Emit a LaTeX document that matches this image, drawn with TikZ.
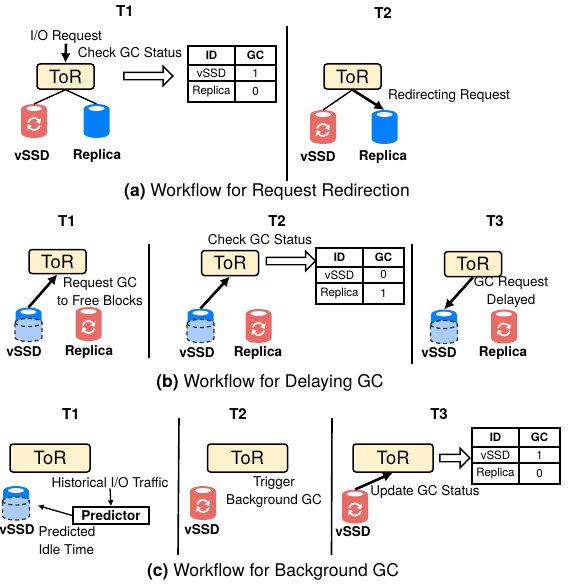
\documentclass[tikz,border=0pt]{standalone}
\usepackage{fontspec}
\setmainfont{TeX Gyre Heros}
\usetikzlibrary{positioning,shapes,arrows.meta,calc}
\definecolor{torfill}{HTML}{FFF2CC}
\definecolor{diskred}{HTML}{EA6B66}
\definecolor{diskblue}{HTML}{007FFF}
\definecolor{disklight}{HTML}{A9CDF7}

\tikzset{
  lbl/.style={font=\fontsize{13.5}{18}\selectfont, inner sep=0pt, align=center},
  lblb/.style={font=\fontsize{13.5}{18}\selectfont\bfseries, inner sep=0pt},
  title/.style={font=\fontsize{15}{18}\selectfont\bfseries, inner sep=0pt},
  caption/.style={font=\fontsize{17.5}{20}\selectfont, inner sep=0pt},
  tor/.style={draw, fill=torfill, line width=1.5pt, rounded corners=3pt, inner sep=0pt,
    minimum width=57pt, minimum height=25pt, font=\fontsize{18.3}{20}\selectfont},
  torwide/.style={tor, minimum width=80pt, minimum height=28pt},
  diskbox/.style={inner sep=0pt, outer sep=0pt, minimum width=26pt, minimum height=34pt},
  cell/.style={draw, line width=1.4pt, inner sep=0pt, outer sep=0pt,
    font=\fontsize{11.5}{13}\selectfont},
  hollow/.style={draw, single arrow, line width=1.4pt, fill=white, inner sep=0pt,
    minimum width=19pt, minimum height=49pt, single arrow head extend=6pt},
  divider/.style={line width=1.6pt},
  link/.style={line width=1.4pt},
  flow/.style={line width=2.6pt, -{Latex[length=10pt, width=10pt]}},
  thin flow/.style={line width=1.3pt, -{Latex[length=6pt, width=6pt]}}
}

% disk icons: name, position
\newcommand{\diskshape}[3]{
  \node[diskbox] (#1) at (#2) {};
  \fill[#3] ($(#1.north west)+(0,5)$) arc[start angle=180, end angle=0, x radius=13pt, y radius=5pt]
    -- ($(#1.south east)+(0,-5)$) arc[start angle=0, end angle=-180, x radius=13pt, y radius=5pt] -- cycle;
  \fill[white] ($(#1.north)+(0,4.5)$) ellipse[x radius=8pt, y radius=2.4pt];
}
\newcommand{\diskgc}[2]{
  \diskshape{#1}{#2}{diskred}
  \foreach \turn in {0,180} {
    \begin{scope}[shift={($(#1.center)+(0,3)$)}, rotate=\turn]
      \draw[white, line width=1.7pt] (165:6pt) arc[start angle=165, end angle=40, radius=6pt];
      \fill[white] (40:9.4pt) -- (40:2.6pt) -- (2:6pt) -- cycle;
    \end{scope}
  }
}
\newcommand{\diskok}[2]{\diskshape{#1}{#2}{diskblue}}
\newcommand{\diskhalf}[2]{
  \diskshape{#1}{#2}{diskblue}
  \filldraw[fill=disklight, draw=black!80, line width=1.3pt, dash pattern=on 4pt off 3pt]
    ($(#1.west)+(-0.5,-2)$) arc[start angle=180, end angle=0, x radius=13.5pt, y radius=4pt]
    -- ($(#1.south east)+(0.5,-4)$) arc[start angle=0, end angle=-180, x radius=13.5pt, y radius=4pt] -- cycle;
  \draw[draw=black!80, line width=1.3pt, dash pattern=on 4pt off 3pt]
    ($(#1.west)+(-0.5,-2)$) arc[start angle=180, end angle=360, x radius=13.5pt, y radius=4pt];
}
% status table: name, top left corner, vssd value, replica value
\newcommand{\gctable}[4]{
  \node[cell, anchor=north west, minimum width=47pt, minimum height=19pt, font=\fontsize{11.5}{13}\selectfont\bfseries] (#1id) at (#2) {ID};
  \node[cell, right=0pt of #1id, minimum width=41pt, minimum height=19pt, font=\fontsize{11.5}{13}\selectfont\bfseries] (#1gc) {GC};
  \node[cell, below=0pt of #1id, minimum width=47pt, minimum height=16pt] (#1va) {vSSD};
  \node[cell, below=0pt of #1gc, minimum width=41pt, minimum height=16pt] (#1vb) {#3};
  \node[cell, below=0pt of #1va, minimum width=47pt, minimum height=21pt] (#1ra) {Replica};
  \node[cell, below=0pt of #1vb, minimum width=41pt, minimum height=21pt] (#1rb) {#4};
}

\begin{document}
\begin{tikzpicture}[x=1pt, y=-1pt]
  \useasboundingbox (0,0) rectangle (569,586);

  % (a) request redirection
  \node[title] (aone) at (125,11) {T1};
  \node[lbl] (aio) at (66,37) {I/O Request};
  \node[tor] (tora) at (65.5,76.5) {ToR};
  \draw[flow] (aio.south) -- (tora.north);
  \node[lbl] (acheck) at (130,53) {Check GC Status};
  \diskgc{adiska}{34,121}
  \diskok{adiskb}{96.5,121}
  \draw[link] (tora.south) -- (adiska.north);
  \draw[link] (tora.south) -- (adiskb.north);
  \node[lblb] (avssd) at (32,156) {vSSD};
  \node[lblb] (arep) at (97,156) {Replica};
  \node[hollow] (aarrow) at (146.5,76) {\rule{0pt}{6pt}};
  \gctable{atab}{188,46}{1}{0}
  \draw[divider] (287,26) -- (287,181);

  \node[title] (atwo) at (383,13) {T2};
  \node[tor] (torb) at (352.5,76.5) {ToR};
  \diskgc{adiskc}{323,127}
  \diskok{adiskd}{384.5,127}
  \draw[link] (torb.south) -- (adiskc.north);
  \draw[flow] (torb.south) -- (adiskd.north);
  \node[lbl] (aredir) at (449,96) {Redirecting Request};
  \node[lblb] (avssdb) at (318,157) {vSSD};
  \node[lblb] (arepb) at (383,157) {Replica};
  \node[caption] (acap) at (267,192) {\textbf{(a)} Workflow for Request Redirection};

  % (b) delaying gc
  \node[title] (bone) at (67,221) {T1};
  \node[tor, minimum height=24pt] (torc) at (57.5,261.5) {ToR};
  \diskhalf{bdiska}{28.5,324.5}
  \diskgc{bdiskb}{88.5,324}
  \draw[flow] (bdiska.north) -- (torc.south);
  \node[lbl] (breq) at (100,292) {Request GC\\to Free Blocks};
  \node[lblb] (bvssd) at (24,352) {vSSD};
  \node[lblb] (brep) at (89,352) {Replica};
  \draw[divider] (149,244) -- (149,358);

  \node[title] (btwo) at (277,221) {T2};
  \node[lbl] (bcheck) at (260,240) {Check GC Status};
  \node[tor] (tord) at (230,263) {ToR};
  \diskhalf{bdiskc}{200.5,325.5}
  \diskgc{bdiskd}{258.5,326}
  \draw[flow] (bdiskc.north) -- (tord.south);
  \node[lblb] (bvssdb) at (197,353) {vSSD};
  \node[lblb] (brepb) at (258,353) {Replica};
  \node[hollow] (barrow) at (289,261) {\rule{0pt}{6pt}};
  \gctable{btab}{316,248}{0}{1}
  \draw[divider] (412,244) -- (412,364);

  \node[title] (bthree) at (495,221) {T3};
  \node[tor] (tore) at (473,264) {ToR};
  \diskhalf{bdiske}{444,326.5}
  \diskgc{bdiskf}{504,326.5}
  \draw[flow] (tore.south) -- (bdiske.north);
  \node[lbl] (bdelay) at (511,292) {GC Request\\Delayed};
  \node[lblb] (bvssdc) at (439,353) {vSSD};
  \node[lblb] (brepc) at (503,353) {Replica};
  \node[caption] (bcap) at (270,383) {\textbf{(b)} Workflow for Delaying GC};

  % (c) background gc
  \node[title] (cone) at (71,414) {T1};
  \node[torwide] (torf) at (50,458) {ToR};
  \diskhalf{cdiska}{16,503}
  \node[lbl] (chist) at (110,483) {Historical I/O Traffic};
  \node[draw, line width=1.4pt, minimum width=76pt, minimum height=17pt, inner sep=0pt,
    font=\fontsize{13.5}{15}\selectfont\bfseries] (pred) at (111,515.5) {Predictor};
  \draw[thin flow] (chist.south) -- (pred.north);
  \draw[thin flow, shorten >=9pt] (pred.west) -- (cdiska.east);
  \node[lblb] (cvssd) at (17,530) {vSSD};
  \node[lbl, align=left] (cidle) at (67,540.5) {Predicted\\Idle Time};
  \draw[divider] (179,418) -- (178,555);

  \node[title] (ctwo) at (238,414) {T2};
  \node[torwide] (torg) at (247.5,458) {ToR};
  \diskgc{cdiskb}{203,503}
  \node[lblb] (cvssdb) at (202,530) {vSSD};
  \node[lbl] (ctrig) at (274,492.5) {Trigger\\Background GC};
  \draw[divider] (332,418) -- (331.5,555);

  \node[title] (cthree) at (439,414) {T3};
  \node[torwide] (torh) at (393,458) {ToR};
  \diskgc{cdiskc}{355,506.5}
  \draw[flow] (cdiskc.north) -- (torh.south);
  \node[lblb] (cvssdc) at (353,532) {vSSD};
  \node[lbl] (cupd) at (425,492) {Update GC Status};
  \node[hollow, minimum height=30pt] (carrow) at (453,458) {\rule{0pt}{6pt}};
  \gctable{ctab}{472,428}{1}{0}
  \node[caption] (ccap) at (273,572) {\textbf{(c)} Workflow for Background GC};
\end{tikzpicture}
\end{document}
